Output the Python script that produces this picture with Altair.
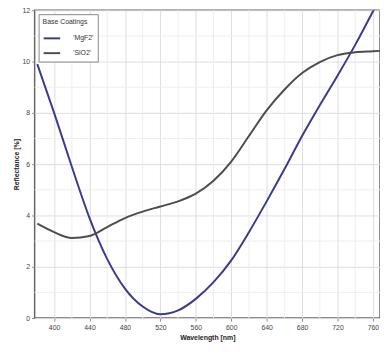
import altair as alt
import pandas as pd

series_names = ["'MgF2'", "'SiO2'"]

wl_a = [381, 400, 420, 440, 460, 480, 500, 520, 540, 560, 580, 600, 620, 640, 660, 680, 700, 720, 740, 760, 770]
refl_a = [9.9, 8.0, 5.9, 3.9, 2.3, 1.15, 0.45, 0.15, 0.3, 0.75, 1.4, 2.25, 3.35, 4.55, 5.8, 7.1, 8.3, 9.45, 10.65, 11.95, 12.6]

wl_b = [381, 400, 420, 440, 460, 480, 500, 520, 540, 560, 580, 600, 620, 640, 660, 680, 700, 720, 740, 760, 770]
refl_b = [3.68, 3.35, 3.12, 3.2, 3.55, 3.9, 4.15, 4.35, 4.55, 4.85, 5.35, 6.1, 7.1, 8.1, 8.9, 9.55, 9.98, 10.25, 10.36, 10.4, 10.42]

x_ticks = [400, 440, 480, 520, 560, 600, 640, 680, 720, 760]
y_ticks = [0, 2, 4, 6, 8, 10, 12]
x_minor = [420, 460, 500, 540, 580, 620, 660, 700, 740]
y_minor = [1, 3, 5, 7, 9, 11]

rows = []
for w, r in zip(wl_a, refl_a):
    rows.append({"wl": w, "refl": r, "series": series_names[0]})
for w, r in zip(wl_b, refl_b):
    rows.append({"wl": w, "refl": r, "series": series_names[1]})
df = pd.DataFrame(rows)

xs = alt.Scale(domain=[378, 768], nice=False, zero=False)
ys = alt.Scale(domain=[0, 12], nice=False)

x_axis = alt.Axis(values=x_ticks, grid=True, labelOverlap=False, labelPadding=3, titlePadding=3)
y_axis = alt.Axis(values=y_ticks, grid=True, labelOverlap=False)

minor_x_df = pd.DataFrame({"wl": x_minor})
minor_y_df = pd.DataFrame({"refl": y_minor})

gx = alt.Chart(minor_x_df).mark_rule(color="#eeeeee", strokeWidth=1).encode(
    x=alt.X("wl:Q", scale=xs, axis=x_axis, title="Wavelength [nm]")
)
gy = alt.Chart(minor_y_df).mark_rule(color="#eeeeee", strokeWidth=1).encode(
    y=alt.Y("refl:Q", scale=ys, axis=y_axis, title="Reflectance [%]")
)

lines = alt.Chart(df).mark_line(strokeWidth=2, clip=True, interpolate="monotone").encode(
    x=alt.X("wl:Q", scale=xs, title="Wavelength [nm]", axis=x_axis),
    y=alt.Y("refl:Q", scale=ys, title="Reflectance [%]", axis=y_axis),
    color=alt.Color("series:N", title="Base Coatings",
                    scale=alt.Scale(domain=series_names, range=["#3b3b8e", "#4d4d4d"]),
                    legend=alt.Legend(orient="top-left", symbolType="stroke",
                                      strokeColor="#888888", fillColor="white",
                                      padding=4, offset=4, symbolSize=280,
                                      symbolStrokeWidth=2, titleFontSize=7,
                                      labelFontSize=7, titleFontWeight="normal",
                                      titleColor="#333333", labelColor="#333333",
                                      rowPadding=1, labelOffset=12, titlePadding=4,
                                      labelLimit=200))
)

chart = alt.layer(gx, gy, lines).properties(
    width=350, height=312,
    autosize=alt.AutoSizeParams(type="none"),
    padding={"left": 27, "top": 0, "right": 0, "bottom": 25},
).configure_view(
    stroke="#666666", strokeWidth=1.5
).configure_axis(
    gridColor="#dddddd", labelFontSize=7, titleFontSize=7, labelColor="#444444",
    titleColor="#222222", titleFontWeight="bold", tickColor="#888888", tickSize=3,
    domain=False, labelFont="Liberation Sans", titleFont="Liberation Sans",
    labelPadding=2, titlePadding=3
).configure_legend(
    labelFont="Liberation Sans", titleFont="Liberation Sans"
)

chart.save("out.html", embed_options={"renderer": "svg", "actions": False})
